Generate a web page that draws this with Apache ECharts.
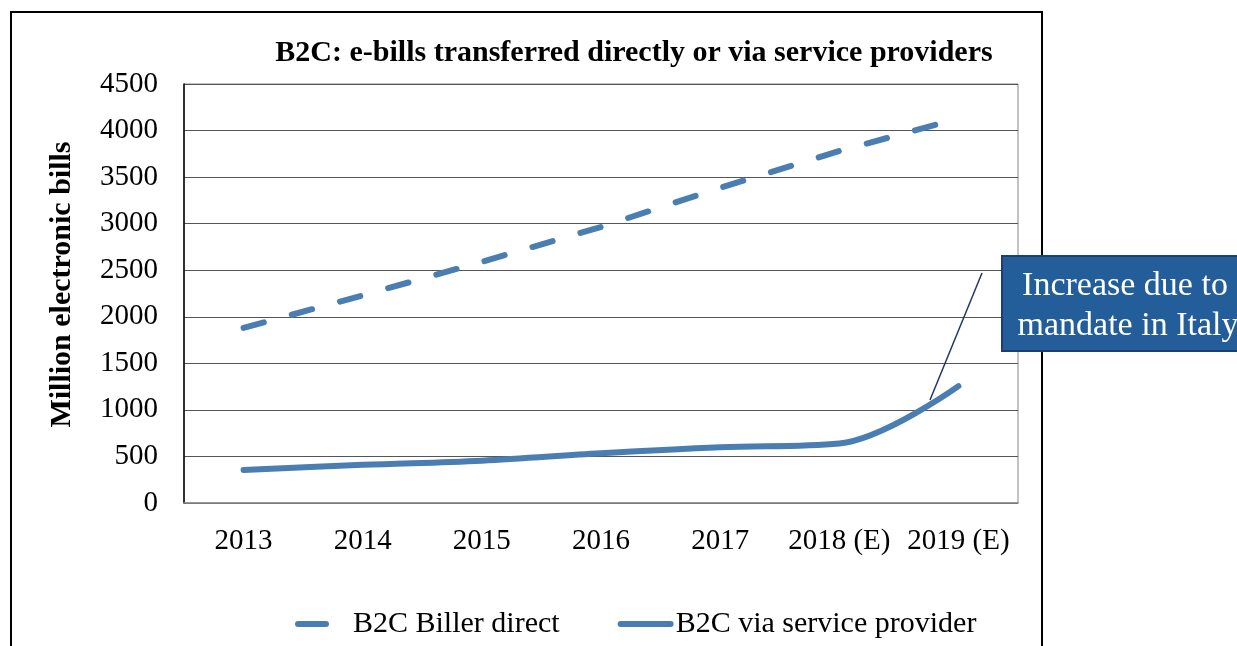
<!DOCTYPE html>
<html>
<head>
<meta charset="utf-8">
<script src="https://cdn.jsdelivr.net/npm/echarts@6/dist/echarts.min.js"></script>
<style>
  html, body { margin: 0; padding: 0; background: #fff; }
  #chart { width: 1237px; height: 646px; }
</style>
</head>
<body>
<div id="chart"></div>
<script>
// data
const years = ['2013', '2014', '2015', '2016', '2017', '2018 (E)', '2019 (E)'];
const billerDirect = [1880, 2230, 2590, 2965, 3385, 3780, 4130];
const viaProvider = [355, 410, 455, 535, 600, 640, 1255];
const yTicks = [0, 500, 1000, 1500, 2000, 2500, 3000, 3500, 4000, 4500];

const serif = '"Liberation Serif", "DejaVu Serif", serif';
const blue = '#4a7eb2';

const chart = echarts.init(document.getElementById('chart'));

const option = {
  animation: false,
  backgroundColor: '#fff',
  title: {
    text: 'B2C: e-bills transferred directly or via service providers',
    left: 629,
    textAlign: 'center',
    top: 33,
    textStyle: { fontFamily: serif, fontSize: 30, fontWeight: 'bold', color: '#000' }
  },
  grid: {
    left: 184, right: 219, top: 84, bottom: 143,
    show: true, borderColor: '#888', borderWidth: 1
  },
  legend: {
    top: 604,
    left: 290,
    itemWidth: 50,
    itemHeight: 14,
    itemGap: 58,
    itemStyle: { opacity: 0 },
    lineStyle: { width: 6, cap: 'round' },
    textStyle: { fontFamily: serif, fontSize: 30, color: '#000' },
    data: [
      { name: 'B2C Biller direct', lineStyle: { type: [28, 40] } },
      { name: 'B2C via service provider' }
    ]
  },
  xAxis: {
    type: 'category',
    data: years,
    boundaryGap: true,
    axisLine: { lineStyle: { color: '#888', width: 1.5 } },
    axisTick: { show: false },
    axisLabel: { fontFamily: serif, fontSize: 29, color: '#000', margin: 24, interval: 0 }
  },
  yAxis: {
    type: 'value',
    min: yTicks[0],
    max: yTicks[yTicks.length - 1],
    interval: 500,
    name: 'Million electronic bills',
    nameLocation: 'middle',
    nameGap: 107,
    nameTextStyle: { fontFamily: serif, fontSize: 30, fontWeight: 'bold', color: '#000', padding: [0, 0, 0, 18] },
    axisLine: { show: true, lineStyle: { color: '#000', width: 1.5 } },
    axisTick: { show: false },
    axisLabel: {
      fontFamily: serif, fontSize: 29, color: '#000', margin: 26,
      formatter: v => String(v)
    },
    splitLine: { lineStyle: { color: '#555', width: 1 } }
  },
  series: [
    {
      name: 'B2C Biller direct',
      type: 'line',
      data: billerDirect,
      symbol: 'none',
      itemStyle: { color: blue },
      lineStyle: { color: blue, width: 6, type: [21, 29], cap: 'round' }
    },
    {
      name: 'B2C via service provider',
      type: 'line',
      data: viaProvider,
      smooth: 0.35,
      symbol: 'none',
      itemStyle: { color: blue },
      lineStyle: { color: blue, width: 6, cap: 'round' }
    }
  ],
  graphic: [
    {
      type: 'rect',
      shape: { x: 11, y: 12, width: 1031, height: 700 },
      style: { fill: 'none', stroke: '#000', lineWidth: 2 },
      silent: true
    },
    {
      type: 'line',
      shape: { x1: 930, y1: 400, x2: 982, y2: 273 },
      style: { stroke: '#1f3864', lineWidth: 1.5 },
      z: 10
    },
    {
      type: 'rect',
      shape: { x: 1002, y: 256, width: 245, height: 95 },
      style: { fill: '#245e9a', stroke: '#1b3f73', lineWidth: 2 },
      z: 10
    },
    {
      type: 'text',
      x: 1125, y: 286,
      style: {
        text: 'Increase due to', fill: '#fff', font: '34px ' + serif,
        textAlign: 'center', textVerticalAlign: 'middle'
      },
      z: 11
    },
    {
      type: 'text',
      x: 1128, y: 326,
      style: {
        text: 'mandate in Italy', fill: '#fff', font: '34px ' + serif,
        textAlign: 'center', textVerticalAlign: 'middle'
      },
      z: 11
    }
  ]
};

chart.setOption(option);
</script>
</body>
</html>
